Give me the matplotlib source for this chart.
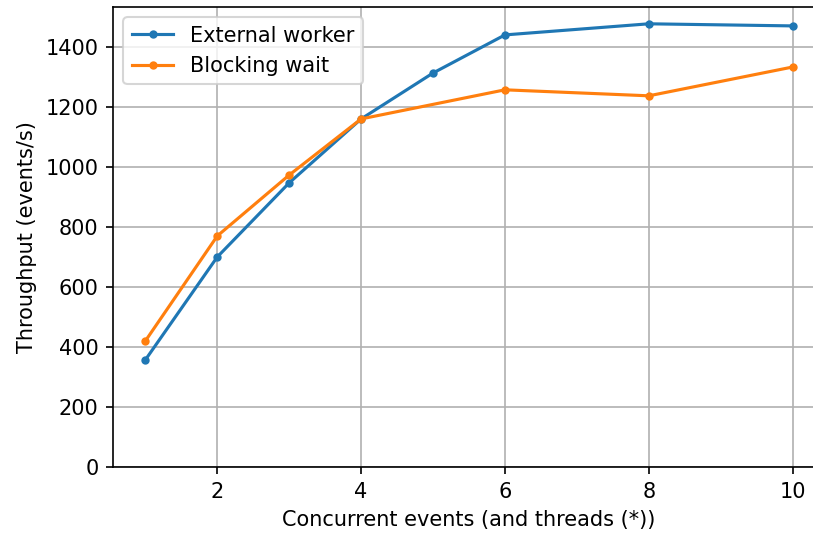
# Throughput vs concurrency

from matplotlib import pyplot as plt

# Data
worker_x = [1, 2, 3, 4, 5, 6, 8, 10]
worker_y = [357, 700, 947, 1160, 1313, 1440, 1477, 1470]

blocking_x = [1, 2, 3, 4, 6, 8, 10]
blocking_y = [420, 770, 973, 1160, 1257, 1237, 1333]

DPI = 150

# Create figure (axes run past the right edge, as in the original crop)
fig = plt.figure(figsize=(813 / DPI, 534 / DPI), dpi=DPI)
ax = fig.add_axes([113 / 813, 67 / 534, 712 / 813, 460 / 534])

# Plot data
ax.plot(worker_x, worker_y, marker=".", label="External worker")
ax.plot(blocking_x, blocking_y, marker=".", label="Blocking wait")

# Axis settings
ax.set_xlim(0.55, 10.45)
ax.set_ylim(0, 1533)
ax.grid(True)
ax.set_xlabel("Concurrent events (and threads (*))")
ax.set_ylabel("Throughput (events/s)")

# Legend
ax.legend(loc="upper left")

# Save plot
fig.savefig("out.png", dpi=DPI)
plt.close(fig)
